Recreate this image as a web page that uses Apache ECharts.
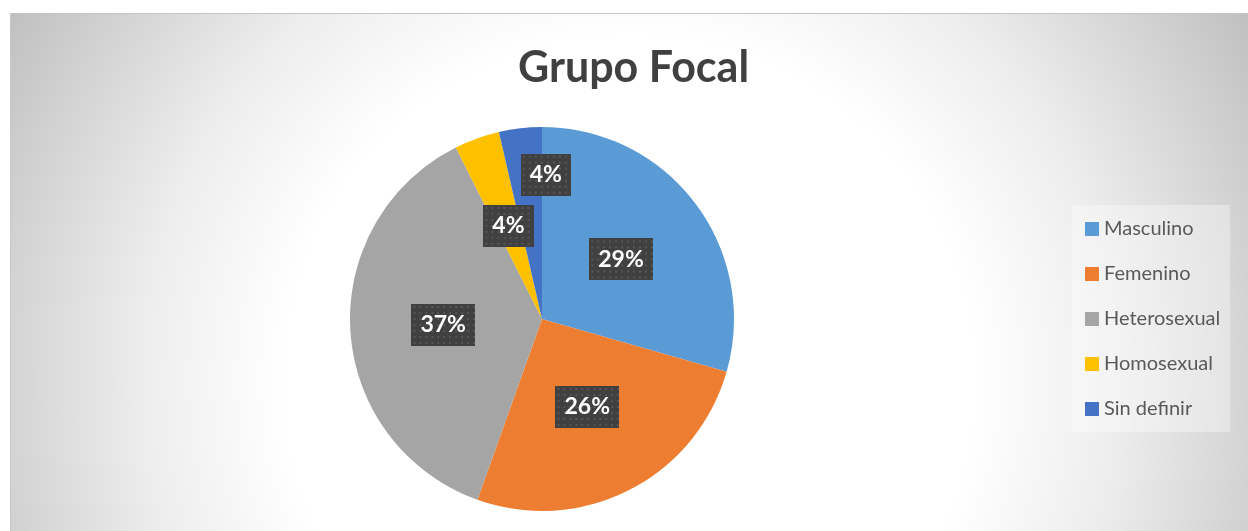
<!DOCTYPE html>
<html>
<head>
<meta charset="utf-8">
<title>Grupo Focal</title>
<script src="https://cdn.jsdelivr.net/npm/echarts@6/dist/echarts.min.js"></script>
<style>
    html, body { margin: 0; padding: 0; background: #fff; }
    #chart {
        position: absolute; left: 10px; top: 13px;
        width: 1238px; height: 518px;
        border-top: 1px solid #c4c4c4;
        border-left: 1px solid #c8c8c8;
        box-sizing: border-box;
    }
</style>
</head>
<body>
<div id="chart"></div>
<script type="text/javascript">
    // datos del grafico
    var categorias = ['Masculino', 'Femenino', 'Heterosexual', 'Homosexual', 'Sin definir'];
    var valores = [29.4, 26.0, 37.1, 3.8, 3.6];
    var colores = ['#5B9BD5', '#ED7D31', '#A5A5A5', '#FFC000', '#4472C4'];

    // fondo punteado de las etiquetas
    function patron(w, h) {
        var c = document.createElement('canvas');
        c.width = w; c.height = h;
        var ctx = c.getContext('2d');
        ctx.fillStyle = '#404040';
        ctx.fillRect(0, 0, w, h);
        ctx.fillStyle = '#575757';
        for (var y = 2; y < h; y += 6) {
            for (var x = 2; x < w; x += 6) {
                ctx.fillRect(x, y, 2, 2);
            }
        }
        return c;
    }
    var fondoGrande = patron(64, 42);
    var fondoChico = patron(50, 42);

    var datos = [];
    for (var i = 0; i < categorias.length; i++) {
        var item = {
            name: categorias[i],
            value: valores[i],
            itemStyle: { color: colores[i] },
            label: { backgroundColor: { image: valores[i] < 10 ? fondoChico : fondoGrande } }
        };
        if (i == 4) {
            item.label.offset = [15, -46];   // Excel la movio para no tapar la otra
        }
        datos.push(item);
    }

    var myChart = echarts.init(document.getElementById('chart'));
    var option = {
        backgroundColor: {
            type: 'radial', x: 0.5, y: 0.71, r: 1.39,
            colorStops: [
                { offset: 0, color: '#ffffff' },
                { offset: 0.48, color: '#ffffff' },
                { offset: 0.68, color: '#ededed' },
                { offset: 0.86, color: '#d4d4d4' },
                { offset: 1, color: '#c0c0c0' }
            ]
        },
        title: {
            text: 'Grupo Focal',
            left: 502,
            top: 28,
            textStyle: { fontFamily: 'Lato', fontSize: 43, fontWeight: 'bold', color: '#404040' }
        },
        legend: {
            orient: 'vertical',
            left: 1061,
            top: 191,
            padding: [14, 10, 13, 13],
            backgroundColor: 'rgba(255,255,255,0.35)',
            icon: 'rect',
            itemWidth: 14,
            itemHeight: 14,
            itemGap: 25,
            data: categorias,
            textStyle: { fontFamily: 'Lato', fontSize: 20, color: '#595959' }
        },
        series: [{
            type: 'pie',
            center: [531, 305],
            radius: 192,
            startAngle: 90,
            clockwise: true,
            silent: true,
            label: {
                show: true,
                position: 'inside',
                formatter: function (p) { return Math.round(p.percent) + '%'; },
                fontFamily: 'Lato',
                fontSize: 23,
                fontWeight: 'bold',
                color: '#ffffff',
                lineHeight: 22,
                padding: [10, 9],
                shadowColor: 'rgba(0,0,0,0.45)',
                shadowBlur: 6,
                shadowOffsetX: 4,
                shadowOffsetY: 4
            },
            labelLine: { show: false },
            data: datos
        }]
    };
    myChart.setOption(option, true);
</script>
</body>
</html>
